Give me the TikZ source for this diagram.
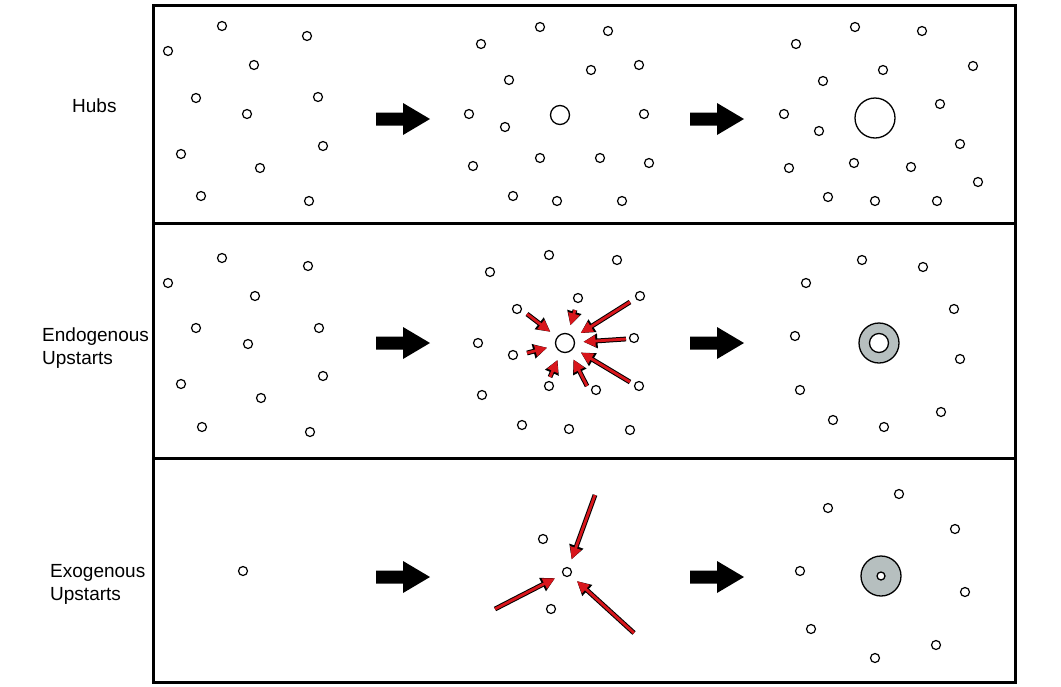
\documentclass[tikz,border=0pt]{standalone}
\usepackage{fontspec}
\setmainfont{Liberation Sans}
\usetikzlibrary{arrows.meta}
\definecolor{ringgrey}{HTML}{B6BFBF}
\definecolor{arrred}{HTML}{D8161C}
\tikzset{
  dot/.style={circle,draw=black,line width=1.2,minimum size=9,inner sep=0pt,outer sep=0pt},
  hub/.style={circle,draw=black,line width=1.3,inner sep=0pt,outer sep=0pt},
  ringbox/.style={circle,draw=black,fill=ringgrey,line width=1.3,minimum size=40,inner sep=0pt,outer sep=0pt},
  hole/.style={circle,draw=black,fill=white,line width=1.3,inner sep=0pt,outer sep=0pt},
  redarrow/.style={preaction={draw=black,line width=4.8,-{Triangle[length=14,width=14]}},
    draw=arrred,line width=2.8,-{Triangle[length=12,width=11]},shorten >=9},
  lbl/.style={font=\fontsize{19}{23}\selectfont,align=left,anchor=west,inner sep=0pt},
  panelline/.style={line width=3,draw=black},
  pics/bigarrow/.style={code={\fill[black] (0,-6.5) -- (27,-6.5) -- (27,-16) -- (54,0) -- (27,16) -- (27,6.5) -- (0,6.5) -- cycle;}}
}
\begin{document}
\begin{tikzpicture}[x=1pt,y=-1pt]
\useasboundingbox[fill=white] (0,0) rectangle (1061,686);
% frame
\draw[panelline] (153.5,5) rectangle (1015.5,682.5);
\draw[panelline] (153.5,223) -- (1015.5,223);
\draw[panelline] (153.5,458) -- (1015.5,458);
% labels
\node[lbl] (l1) at (72,106) {Hubs};
\node[lbl] (l2) at (42,348) {Endogenous\\Upstarts};
\node[lbl] (l3) at (50,584) {Exogenous\\Upstarts};
% big arrows
\foreach \yy in {119,343,577}{
  \pic at (376,\yy) {bigarrow};
  \pic at (690,\yy) {bigarrow};
}
% ---------- Panel 1: Hubs ----------
\foreach \x/\y [count=\i] in {222/26,168/51,307/36,254/65,196/98,318/97,247/114,181/154,323/146,260/168,201/196,309/201}
  \node[dot] (a1\i) at (\x,\y) {};
\foreach \x/\y [count=\i] in {540/27,608/31,481/44,591/70,639/65,509/80,469/114,644/114,505/127,540/158,600/158,473/166,649/163,513/196,557/201,622/201}
  \node[dot] (b1\i) at (\x,\y) {};
\node[hub,minimum size=19] (hubm) at (560,115) {};
\foreach \x/\y [count=\i] in {855/27,922/31,796/44,973/66,883/70,823/81,784/114,940/104,819/131,960/144,854/163,789/168,911/167,978/182,828/197,875/201,937/201}
  \node[dot] (c1\i) at (\x,\y) {};
\node[hub,minimum size=40] (hubr) at (875,118) {};
% ---------- Panel 2: Endogenous ----------
\foreach \x/\y [count=\i] in {222/258,168/283,308/266,255/296,196/328,319/328,248/344,181/384,323/376,261/398,202/427,310/432}
  \node[dot] (a2\i) at (\x,\y) {};
\foreach \x/\y [count=\i] in {549/255,617/260,490/272,578/298,640/296,517/309,478/343,634/338,513/355,549/386,596/390,482/395,639/386,522/425,569/429,630/430}
  \node[dot] (b2\i) at (\x,\y) {};
\node[hub,minimum size=19] (endc) at (565,343) {};
\foreach \x/\y [count=\i] in {527/314,575/310,630/302,626/339,630/382,587/386,550/377,527/353}{
  \coordinate (es\i) at (\x,\y);
  \draw[redarrow] (es\i) -- (endc);
}
\foreach \x/\y [count=\i] in {862/260,923/267,806/283,954/309,795/336,960/359,800/390,941/412,833/420,884/427}
  \node[dot] (c2\i) at (\x,\y) {};
\node[ringbox] (ring2) at (879,343) {};
\node[hole,minimum size=19] (hole2) at (879,343) {};
% ---------- Panel 3: Exogenous ----------
\node[dot] (a31) at (243,571) {};
\node[dot] (b31) at (543,539) {};
\node[dot] (b32) at (551,609) {};
\node[dot] (exoc) at (567,572) {};
\foreach \x/\y [count=\i] in {595/495,495/609,634/633}{
  \coordinate (xs\i) at (\x,\y);
  \draw[redarrow] (xs\i) -- (exoc);
}
\foreach \x/\y [count=\i] in {828/508,899/494,955/529,800/571,965/592,811/629,936/645,875/658}
  \node[dot] (c3\i) at (\x,\y) {};
\node[ringbox] (ring3) at (881,576) {};
\node[hole,minimum size=8] (hole3) at (881,576) {};
\end{tikzpicture}
\end{document}
